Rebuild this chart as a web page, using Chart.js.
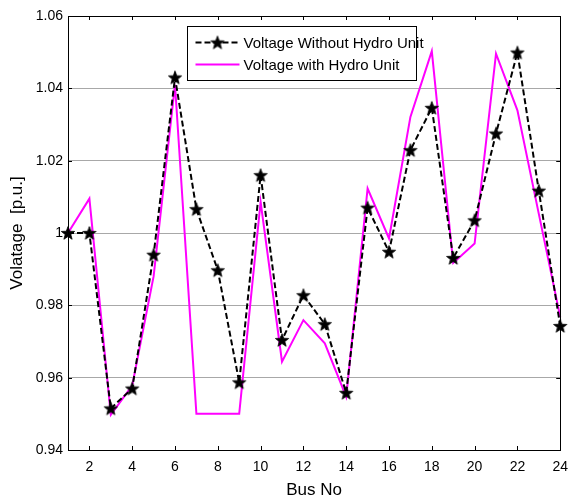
<!DOCTYPE html>
<html>
<head>
<meta charset="utf-8">
<script src="https://cdn.jsdelivr.net/npm/chart.js@4.4.1/dist/chart.umd.min.js"></script>
<style>
  html, body { margin: 0; padding: 0; background: #fff; }
  #wrap { width: 577px; height: 501px; }
</style>
</head>
<body>
<div id="wrap"><canvas id="c" width="577" height="501"></canvas></div>
<script>
// ---- data ----
const buses = [1,2,3,4,5,6,7,8,9,10,11,12,13,14,15,16,17,18,19,20,21,22,23,24];
const voltageWithoutHydro = [1.000, 1.000, 0.9515, 0.957, 0.994, 1.043, 1.0066, 0.9897, 0.9587, 1.016,
  0.9704, 0.9828, 0.9748, 0.9558, 1.007, 0.9948, 1.0229, 1.0346, 0.9931, 1.0035, 1.0275, 1.0499, 1.0117, 0.9743];
const voltageWithHydro = [1.000, 1.0095, 0.9497, 0.9578, 0.988, 1.041, 0.950, 0.950, 0.950, 1.0086,
  0.9644, 0.9759, 0.9695, 0.9547, 1.0123, 0.9985, 1.0321, 1.0503, 0.9917, 0.9971, 1.0496, 1.0339, 1.0053, 0.9768];
const xTickValues = [2,4,6,8,10,12,14,16,18,20,22,24];
const yTickValues = [0.94, 0.96, 0.98, 1.00, 1.02, 1.04, 1.06];
const yTickLabels = ['0.94', '0.96', '0.98', '1', '1.02', '1.04', '1.06'];
const seriesNames = ['Voltage Without Hydro Unit', 'Voltage with Hydro Unit'];

// ---- pentagram marker ----
function makeStar(r) {
  const c = document.createElement('canvas');
  const s = Math.ceil(2 * r + 4);
  c.width = s; c.height = s;
  const g = c.getContext('2d');
  const cx = s / 2, cy = s / 2 + 0.6;
  const inner = r * 0.42;
  g.beginPath();
  for (let i = 0; i < 10; i++) {
    const rad = i % 2 === 0 ? r : inner;
    const ang = -Math.PI / 2 + i * Math.PI / 5;
    const px = cx + rad * Math.cos(ang), py = cy + rad * Math.sin(ang);
    if (i === 0) g.moveTo(px, py); else g.lineTo(px, py);
  }
  g.closePath();
  g.fillStyle = '#000';
  g.fill();
  g.lineWidth = 0.8;
  g.strokeStyle = '#000';
  g.stroke();
  return c;
}
const starImg = makeStar(7);

const FONT = "'Liberation Sans', Arial, Helvetica, sans-serif";

const framePlugin = {
  id: 'frame',
  afterDraw(chart) {
    const { ctx, chartArea: a, scales } = chart;
    const x = scales.x, y = scales.y;
    ctx.save();
    ctx.strokeStyle = '#000';
    ctx.lineWidth = 1;
    // box
    ctx.strokeRect(Math.round(a.left) + 0.5, Math.round(a.top) + 0.5,
      Math.round(a.right) - Math.round(a.left), Math.round(a.bottom) - Math.round(a.top));
    // inward ticks
    ctx.beginPath();
    xTickValues.forEach(v => {
      const px = Math.round(x.getPixelForValue(v)) + 0.5;
      ctx.moveTo(px, a.bottom); ctx.lineTo(px, a.bottom - 4);
      ctx.moveTo(px, a.top); ctx.lineTo(px, a.top + 4);
    });
    yTickValues.forEach(v => {
      const py = Math.round(y.getPixelForValue(v)) + 0.5;
      ctx.moveTo(a.left, py); ctx.lineTo(a.left + 4, py);
      ctx.moveTo(a.right, py); ctx.lineTo(a.right - 4, py);
    });
    ctx.stroke();

    // legend
    const lx = Math.round(a.left + 119) + 0.5, ly = Math.round(a.top + 10) + 0.5;
    const lw = 229, lh = 54;
    ctx.fillStyle = '#fff';
    ctx.fillRect(lx, ly, lw, lh);
    ctx.strokeStyle = '#000';
    ctx.lineWidth = 1;
    ctx.strokeRect(lx, ly, lw, lh);
    const ds = chart.data.datasets;
    const rows = [ly + 16, ly + 38];
    ds.forEach((d, i) => {
      const yy = rows[i];
      ctx.save();
      ctx.strokeStyle = d.borderColor;
      ctx.lineWidth = d.borderWidth;
      ctx.setLineDash(d.borderDash || []);
      ctx.beginPath();
      ctx.moveTo(lx + 8, yy); ctx.lineTo(lx + 52, yy);
      ctx.stroke();
      ctx.restore();
      if (d.pointRadius > 0) {
        ctx.drawImage(starImg, lx + 30 - starImg.width / 2, yy - starImg.height / 2);
      }
      ctx.fillStyle = '#000';
      ctx.font = "15px " + FONT;
      ctx.textBaseline = 'middle';
      ctx.textAlign = 'left';
      ctx.fillText(d.label, lx + 56, yy + 1);
    });
    ctx.restore();
  }
};

new Chart(document.getElementById('c'), {
  type: 'line',
  data: {
    datasets: [
      {
        label: seriesNames[0],
        data: buses.map((b, i) => ({ x: b, y: voltageWithoutHydro[i] })),
        borderColor: '#000000',
        borderWidth: 2,
        borderDash: [6, 3],
        pointStyle: starImg,
        pointRadius: 7,
        tension: 0,
        clip: false,
        fill: false
      },
      {
        label: seriesNames[1],
        data: buses.map((b, i) => ({ x: b, y: voltageWithHydro[i] })),
        borderColor: '#ff00ff',
        borderWidth: 2,
        pointRadius: 0,
        tension: 0,
        clip: false,
        fill: false
      }
    ]
  },
  options: {
    responsive: false,
    animation: false,
    devicePixelRatio: 1,
    layout: { padding: { top: 16, right: 8, left: 0, bottom: 0 } },
    plugins: { legend: { display: false }, tooltip: { enabled: false } },
    scales: {
      x: {
        type: 'linear',
        min: 1, max: 24,
        afterBuildTicks: s => { s.ticks = xTickValues.map(v => ({ value: v })); },
        afterFit: s => { s.height = 51; },
        ticks: { color: '#000', font: { family: FONT, size: 14 }, padding: 9, maxRotation: 0, autoSkip: false,
                 callback: v => String(v) },
        grid: { display: true, drawOnChartArea: false, drawTicks: false },
        border: { display: true, color: '#000' },
        title: { display: true, text: 'Bus No', color: '#000', font: { family: FONT, size: 17 }, padding: { top: 2, bottom: 0 } }
      },
      y: {
        type: 'linear',
        min: 0.94, max: 1.06,
        afterBuildTicks: s => { s.ticks = yTickValues.map(v => ({ value: v })); },
        afterFit: s => { s.width = 68; },
        ticks: { color: '#000', font: { family: FONT, size: 14 }, padding: 5,
                 callback: (v, i) => yTickLabels[i] },
        grid: { color: '#a8a8a8', lineWidth: 1, drawTicks: false },
        border: { display: true, color: '#000' },
        title: { display: true, text: 'Volatage  [p.u.]', color: '#000', font: { family: FONT, size: 17 }, padding: { top: 7, bottom: 0 } }
      }
    }
  },
  plugins: [framePlugin]
});
</script>
</body>
</html>
